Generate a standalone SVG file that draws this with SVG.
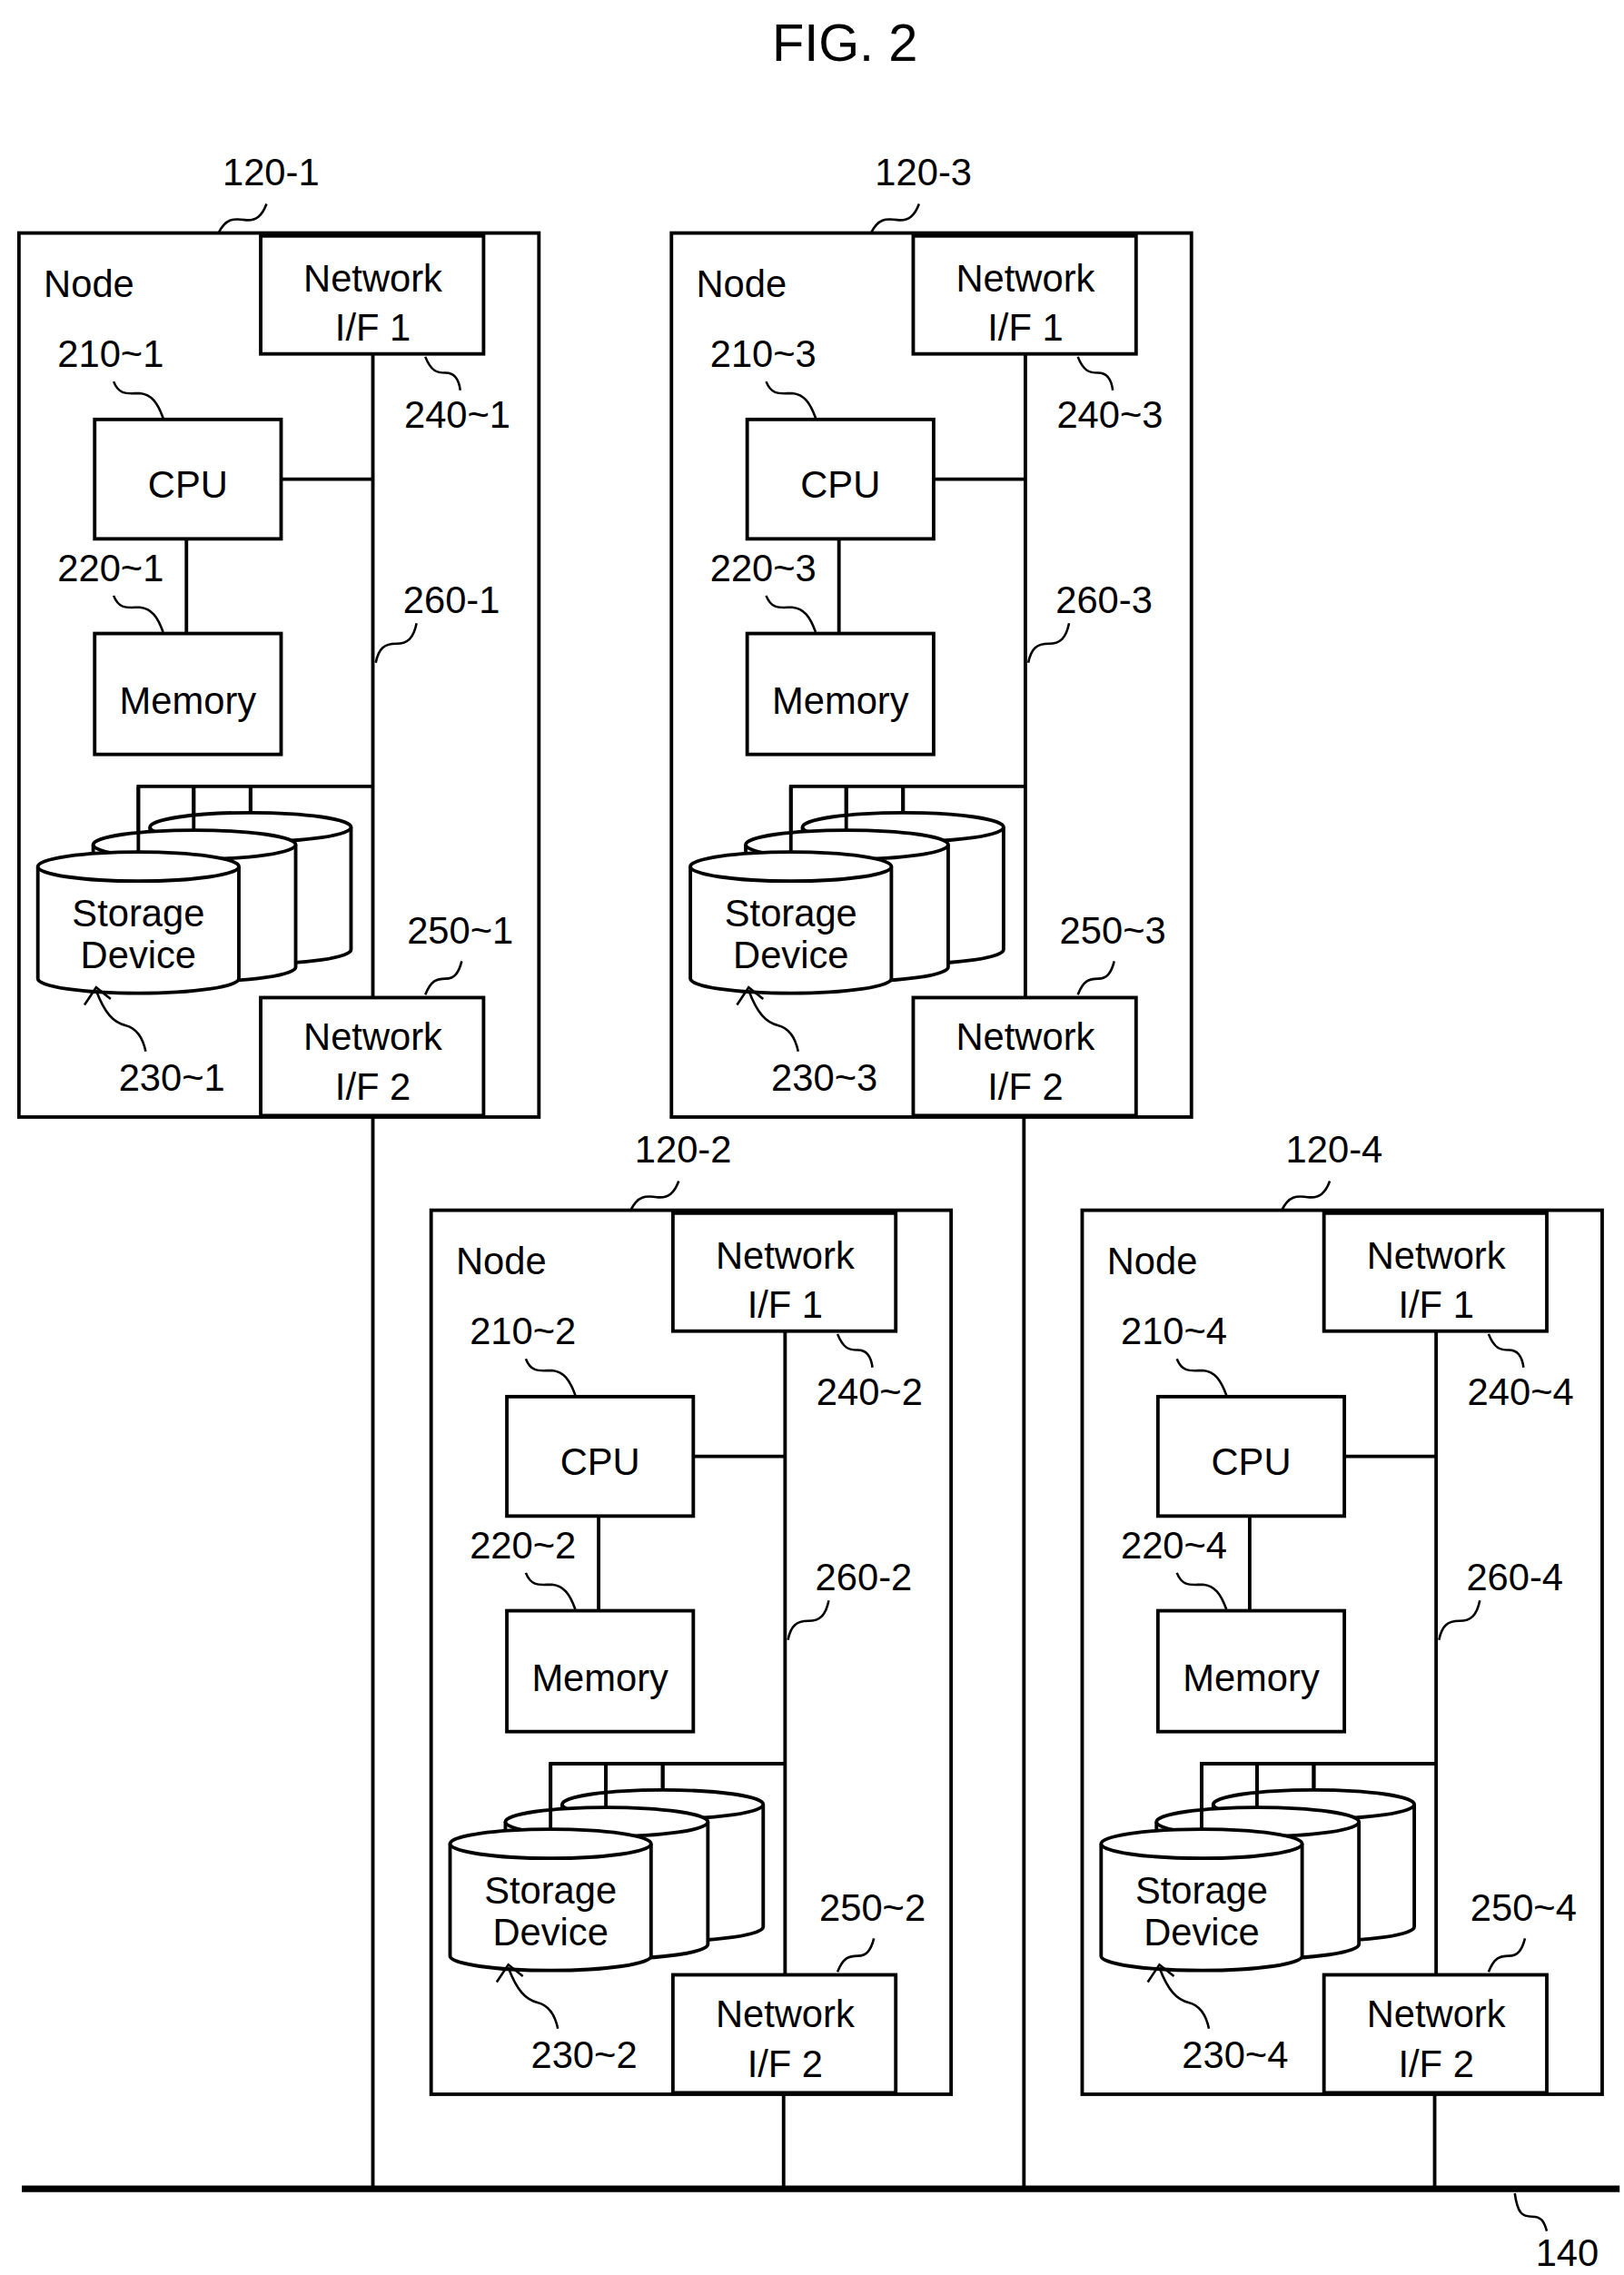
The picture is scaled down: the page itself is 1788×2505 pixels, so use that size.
<svg xmlns="http://www.w3.org/2000/svg" width="1788" height="2505" viewBox="0 0 1788 2505">
<style>
.b{fill:none;stroke:#000;stroke-width:2.4}
.w{fill:#fff;stroke:#000;stroke-width:2.4}
.l{fill:none;stroke:#000;stroke-width:1.6}
text{font-family:"Liberation Sans",Arial,sans-serif;font-size:26px;fill:#000}
.c{text-anchor:middle}
</style>
<rect width="1788" height="2505" fill="#fff"/>
<g transform="scale(1.6036)">
<text x="580" y="42" class="c" style="font-size:36px">FIG. 2</text>
<g id="connectors">
<line x1="15" y1="1503" x2="1112" y2="1503" stroke="#000" stroke-width="4.5"/>
<line class="b" x1="256" y1="765" x2="256" y2="1503"/>
<line class="b" x1="703" y1="765" x2="703" y2="1503"/>
<line class="b" x1="538" y1="1436" x2="538" y2="1503"/>
<line class="b" x1="985" y1="1436" x2="985" y2="1503"/>
<path class="l" d="M1040,1506 C1042,1520 1045,1522 1052,1522 C1058,1522 1060,1525 1062,1532"/>
<text x="1076" y="1556" class="c">140</text>
</g>
<g id="node-120-1" transform="translate(0,0)">
<rect class="b" x="13" y="160" width="357" height="607"/>
<text x="30" y="204">Node</text>
<rect class="w" x="179" y="162" width="153" height="81"/>
<text x="256" y="200" class="c">Network</text><text x="256" y="234" class="c">I/F 1</text>
<line class="b" x1="256" y1="243" x2="256" y2="685"/>
<rect class="w" x="179" y="685" width="153" height="81"/>
<text x="256" y="721" class="c">Network</text><text x="256" y="755" class="c">I/F 2</text>
<rect class="w" x="65" y="288" width="128" height="82"/><text x="129" y="342" class="c">CPU</text>
<line class="b" x1="193" y1="329" x2="256" y2="329"/>
<line class="b" x1="128" y1="370" x2="128" y2="435"/>
<rect class="w" x="65" y="435" width="128" height="83"/><text x="129" y="490" class="c">Memory</text>
<path class="b" d="M95,585 V540 H256 M133,540 V570 M172,540 V558"/>
<path class="w" d="M103,568 V652 A69,10 0 0 0 241,652 V568"/><ellipse class="w" cx="172" cy="568" rx="69" ry="10"/>
<path class="w" d="M64,580 V664 A69,10 0 0 0 203,664 V580"/><ellipse class="w" cx="133.5" cy="580" rx="69.5" ry="10"/>
<path class="b" d="M133,540 V570 M172,540 V558"/>
<path class="w" d="M26,595 V672 A69,10 0 0 0 164,672 V595"/><ellipse class="w" cx="95" cy="595" rx="69" ry="10"/>
<path class="b" d="M95,540 V585"/>
<text x="95" y="636" class="c">Storage</text><text x="95" y="665" class="c">Device</text>
<path class="l" d="M150,160 C155,150 160,150 168,151 C176,152 180,148 183,140"/>
<text x="186" y="127" class="c">120-1</text>
<text x="76" y="252" class="c">210~1</text>
<path class="l" d="M78,262 C82,272 88,270 96,270 C104,271 108,276 112,287"/>
<text x="76" y="399" class="c">220~1</text>
<path class="l" d="M78,409 C82,419 88,417 96,417 C104,418 108,423 112,434"/>
<path class="l" d="M292,245 C296,255 300,256 306,256 C312,256 315,260 316,268"/>
<text x="314" y="294" class="c">240~1</text>
<path class="l" d="M258,455 C260,445 264,442 272,442 C280,442 284,438 286,428"/>
<text x="310" y="421" class="c">260-1</text>
<path class="l" d="M292,683 C296,673 300,672 306,672 C312,672 315,668 317,660"/>
<text x="316" y="648" class="c">250~1</text>
<path class="l" d="M100,722 C98,712 94,706 86,704 C78,702 72,696 66,680 M58,690 L66,678 L76,686"/>
<text x="118" y="749" class="c">230~1</text>
</g>
<g id="node-120-3" transform="translate(448,0)">
<rect class="b" x="13" y="160" width="357" height="607"/>
<text x="30" y="204">Node</text>
<rect class="w" x="179" y="162" width="153" height="81"/>
<text x="256" y="200" class="c">Network</text><text x="256" y="234" class="c">I/F 1</text>
<line class="b" x1="256" y1="243" x2="256" y2="685"/>
<rect class="w" x="179" y="685" width="153" height="81"/>
<text x="256" y="721" class="c">Network</text><text x="256" y="755" class="c">I/F 2</text>
<rect class="w" x="65" y="288" width="128" height="82"/><text x="129" y="342" class="c">CPU</text>
<line class="b" x1="193" y1="329" x2="256" y2="329"/>
<line class="b" x1="128" y1="370" x2="128" y2="435"/>
<rect class="w" x="65" y="435" width="128" height="83"/><text x="129" y="490" class="c">Memory</text>
<path class="b" d="M95,585 V540 H256 M133,540 V570 M172,540 V558"/>
<path class="w" d="M103,568 V652 A69,10 0 0 0 241,652 V568"/><ellipse class="w" cx="172" cy="568" rx="69" ry="10"/>
<path class="w" d="M64,580 V664 A69,10 0 0 0 203,664 V580"/><ellipse class="w" cx="133.5" cy="580" rx="69.5" ry="10"/>
<path class="b" d="M133,540 V570 M172,540 V558"/>
<path class="w" d="M26,595 V672 A69,10 0 0 0 164,672 V595"/><ellipse class="w" cx="95" cy="595" rx="69" ry="10"/>
<path class="b" d="M95,540 V585"/>
<text x="95" y="636" class="c">Storage</text><text x="95" y="665" class="c">Device</text>
<path class="l" d="M150,160 C155,150 160,150 168,151 C176,152 180,148 183,140"/>
<text x="186" y="127" class="c">120-3</text>
<text x="76" y="252" class="c">210~3</text>
<path class="l" d="M78,262 C82,272 88,270 96,270 C104,271 108,276 112,287"/>
<text x="76" y="399" class="c">220~3</text>
<path class="l" d="M78,409 C82,419 88,417 96,417 C104,418 108,423 112,434"/>
<path class="l" d="M292,245 C296,255 300,256 306,256 C312,256 315,260 316,268"/>
<text x="314" y="294" class="c">240~3</text>
<path class="l" d="M258,455 C260,445 264,442 272,442 C280,442 284,438 286,428"/>
<text x="310" y="421" class="c">260-3</text>
<path class="l" d="M292,683 C296,673 300,672 306,672 C312,672 315,668 317,660"/>
<text x="316" y="648" class="c">250~3</text>
<path class="l" d="M100,722 C98,712 94,706 86,704 C78,702 72,696 66,680 M58,690 L66,678 L76,686"/>
<text x="118" y="749" class="c">230~3</text>
</g>
<g id="node-120-2" transform="translate(283,671)">
<rect class="b" x="13" y="160" width="357" height="607"/>
<text x="30" y="204">Node</text>
<rect class="w" x="179" y="162" width="153" height="81"/>
<text x="256" y="200" class="c">Network</text><text x="256" y="234" class="c">I/F 1</text>
<line class="b" x1="256" y1="243" x2="256" y2="685"/>
<rect class="w" x="179" y="685" width="153" height="81"/>
<text x="256" y="721" class="c">Network</text><text x="256" y="755" class="c">I/F 2</text>
<rect class="w" x="65" y="288" width="128" height="82"/><text x="129" y="342" class="c">CPU</text>
<line class="b" x1="193" y1="329" x2="256" y2="329"/>
<line class="b" x1="128" y1="370" x2="128" y2="435"/>
<rect class="w" x="65" y="435" width="128" height="83"/><text x="129" y="490" class="c">Memory</text>
<path class="b" d="M95,585 V540 H256 M133,540 V570 M172,540 V558"/>
<path class="w" d="M103,568 V652 A69,10 0 0 0 241,652 V568"/><ellipse class="w" cx="172" cy="568" rx="69" ry="10"/>
<path class="w" d="M64,580 V664 A69,10 0 0 0 203,664 V580"/><ellipse class="w" cx="133.5" cy="580" rx="69.5" ry="10"/>
<path class="b" d="M133,540 V570 M172,540 V558"/>
<path class="w" d="M26,595 V672 A69,10 0 0 0 164,672 V595"/><ellipse class="w" cx="95" cy="595" rx="69" ry="10"/>
<path class="b" d="M95,540 V585"/>
<text x="95" y="636" class="c">Storage</text><text x="95" y="665" class="c">Device</text>
<path class="l" d="M150,160 C155,150 160,150 168,151 C176,152 180,148 183,140"/>
<text x="186" y="127" class="c">120-2</text>
<text x="76" y="252" class="c">210~2</text>
<path class="l" d="M78,262 C82,272 88,270 96,270 C104,271 108,276 112,287"/>
<text x="76" y="399" class="c">220~2</text>
<path class="l" d="M78,409 C82,419 88,417 96,417 C104,418 108,423 112,434"/>
<path class="l" d="M292,245 C296,255 300,256 306,256 C312,256 315,260 316,268"/>
<text x="314" y="294" class="c">240~2</text>
<path class="l" d="M258,455 C260,445 264,442 272,442 C280,442 284,438 286,428"/>
<text x="310" y="421" class="c">260-2</text>
<path class="l" d="M292,683 C296,673 300,672 306,672 C312,672 315,668 317,660"/>
<text x="316" y="648" class="c">250~2</text>
<path class="l" d="M100,722 C98,712 94,706 86,704 C78,702 72,696 66,680 M58,690 L66,678 L76,686"/>
<text x="118" y="749" class="c">230~2</text>
</g>
<g id="node-120-4" transform="translate(730,671)">
<rect class="b" x="13" y="160" width="357" height="607"/>
<text x="30" y="204">Node</text>
<rect class="w" x="179" y="162" width="153" height="81"/>
<text x="256" y="200" class="c">Network</text><text x="256" y="234" class="c">I/F 1</text>
<line class="b" x1="256" y1="243" x2="256" y2="685"/>
<rect class="w" x="179" y="685" width="153" height="81"/>
<text x="256" y="721" class="c">Network</text><text x="256" y="755" class="c">I/F 2</text>
<rect class="w" x="65" y="288" width="128" height="82"/><text x="129" y="342" class="c">CPU</text>
<line class="b" x1="193" y1="329" x2="256" y2="329"/>
<line class="b" x1="128" y1="370" x2="128" y2="435"/>
<rect class="w" x="65" y="435" width="128" height="83"/><text x="129" y="490" class="c">Memory</text>
<path class="b" d="M95,585 V540 H256 M133,540 V570 M172,540 V558"/>
<path class="w" d="M103,568 V652 A69,10 0 0 0 241,652 V568"/><ellipse class="w" cx="172" cy="568" rx="69" ry="10"/>
<path class="w" d="M64,580 V664 A69,10 0 0 0 203,664 V580"/><ellipse class="w" cx="133.5" cy="580" rx="69.5" ry="10"/>
<path class="b" d="M133,540 V570 M172,540 V558"/>
<path class="w" d="M26,595 V672 A69,10 0 0 0 164,672 V595"/><ellipse class="w" cx="95" cy="595" rx="69" ry="10"/>
<path class="b" d="M95,540 V585"/>
<text x="95" y="636" class="c">Storage</text><text x="95" y="665" class="c">Device</text>
<path class="l" d="M150,160 C155,150 160,150 168,151 C176,152 180,148 183,140"/>
<text x="186" y="127" class="c">120-4</text>
<text x="76" y="252" class="c">210~4</text>
<path class="l" d="M78,262 C82,272 88,270 96,270 C104,271 108,276 112,287"/>
<text x="76" y="399" class="c">220~4</text>
<path class="l" d="M78,409 C82,419 88,417 96,417 C104,418 108,423 112,434"/>
<path class="l" d="M292,245 C296,255 300,256 306,256 C312,256 315,260 316,268"/>
<text x="314" y="294" class="c">240~4</text>
<path class="l" d="M258,455 C260,445 264,442 272,442 C280,442 284,438 286,428"/>
<text x="310" y="421" class="c">260-4</text>
<path class="l" d="M292,683 C296,673 300,672 306,672 C312,672 315,668 317,660"/>
<text x="316" y="648" class="c">250~4</text>
<path class="l" d="M100,722 C98,712 94,706 86,704 C78,702 72,696 66,680 M58,690 L66,678 L76,686"/>
<text x="118" y="749" class="c">230~4</text>
</g>
</g>
</svg>
